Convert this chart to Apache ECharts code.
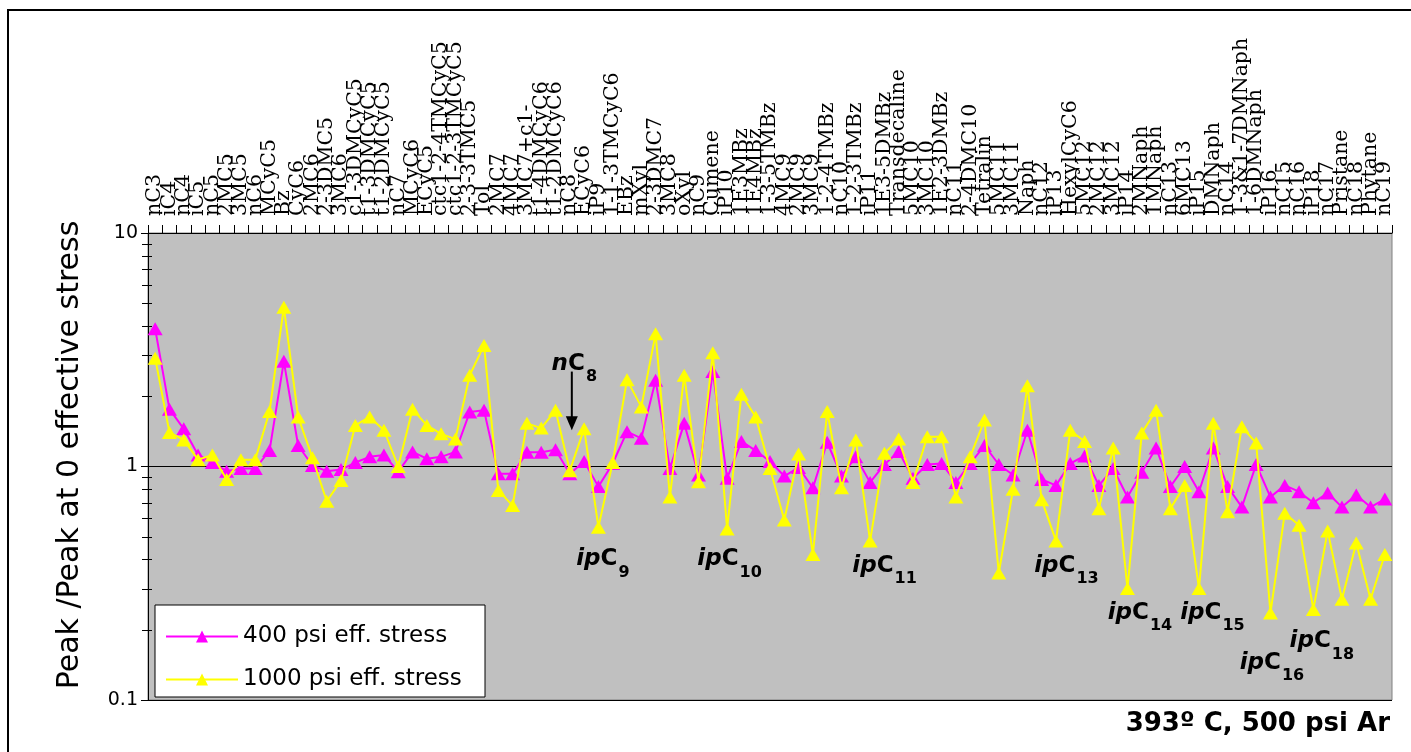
<!DOCTYPE html>
<html>
<head>
<meta charset="utf-8">
<script src="https://cdn.jsdelivr.net/npm/echarts@6/dist/echarts.min.js"></script>
<style>
html,body{margin:0;padding:0;background:#fff}
#chart{width:1411px;height:752px}
</style>
</head>
<body>
<div id="chart"></div>
<script>
var categories = ['nC3','iC4','nC4','iC5','nC5','2MC5','3MC5','nC6','MCyC5','Bz','CyC6','2MC6','2-3DMC5','3MC6',
  'c1-3DMCyC5','t1-3DMCyC5','t1-2DMCyC5','nC7','MCyC6','ECyC5','ctc1-2-4TMCyC5','ctc1-2-3TMCyC5','2-3-3TMC5',
  'Tol','2MC7','4MC7','3MC7+c1-','t1-4DMCyC6','t1-2DMCyC6','nC8','ECyC6','iP9','1-1-3TMCyC6','EBz','mXyl',
  '2-3DMC7','3MC8','oXyl','nC9','Cumene','iP10','1E3MBz','1E4MBz','1-3-5TMBz','4MC9','2MC9','3MC9','1-2-4TMBz',
  'nC10','1-2-3TMBz','iP11','1E3-5DMBz','Transdecaline','5MC10','3MC10','1E2-3DMBz','nC11','2-4DMC10','Tetralin',
  '5MC11','3MC11','Naph','nC12','iP13','HexylCyC6','5MC12','2MC12','3MC12','iP14','2MNaph','1MNaph','nC13',
  '6MC13','iP15','DMNaph','nC14','1-3&1-7DMNaph','1-6DMNaph','iP16','nC15','nC16','iP18','nC17','Pristane',
  'nC18','Phytane','nC19'];

// 400 psi effective stress
var stress400 = [3.89,1.76,1.45,1.12,1.04,0.955,0.98,0.98,1.17,2.82,1.23,1.01,0.955,0.97,1.04,1.10,1.12,0.95,1.155,1.08,
  1.10,1.155,1.71,1.74,0.93,0.93,1.15,1.15,1.18,0.93,1.05,0.82,1.03,1.41,1.32,2.34,0.98,1.53,0.92,2.55,
  0.89,1.28,1.17,1.05,0.91,0.99,0.81,1.27,0.91,1.10,0.855,1.02,1.16,0.89,1.02,1.03,0.855,1.03,1.23,1.02,
  0.92,1.43,0.88,0.83,1.03,1.11,0.83,0.98,0.74,0.945,1.20,0.82,1.0,0.78,1.20,0.82,0.67,1.02,0.74,0.83,
  0.78,0.70,0.77,0.67,0.755,0.67,0.725];

// 1000 psi effective stress
var stress1000 = [2.91,1.40,1.30,1.07,1.12,0.88,1.07,1.07,1.72,4.81,1.63,1.09,0.71,0.87,1.50,1.63,1.43,1.0,1.76,1.50,
  1.38,1.31,2.46,3.30,0.79,0.68,1.53,1.46,1.74,0.96,1.45,0.55,1.04,2.35,1.80,3.70,0.74,2.46,0.86,3.07,
  0.54,2.04,1.63,0.98,0.59,1.13,0.42,1.72,0.81,1.30,0.48,1.14,1.31,0.855,1.34,1.34,0.74,1.10,1.58,0.35,
  0.80,2.22,0.72,0.48,1.43,1.28,0.66,1.20,0.30,1.39,1.74,0.66,0.83,0.30,1.53,0.64,1.48,1.26,0.236,0.63,
  0.56,0.244,0.53,0.27,0.47,0.27,0.42];

var yMin = 0.1, yMax = 10;
var minorTicks = [0.2,0.3,0.4,0.5,0.6,0.7,0.8,0.9,2,3,4,5,6,7,8,9];

// labels under the iso-paraffin dips: category, subscript, value where the text sits, x shift
var ipNotes = [
  ['iP9','9',0.40,4],['iP10','10',0.40,2],['iP11','11',0.374,14],['iP13','13',0.374,10],
  ['iP14','14',0.236,12],['iP15','15',0.236,13],['iP16','16',0.144,1],['iP18','18',0.178,8]
];

var sans = 'DejaVu Sans';
var chart = echarts.init(document.getElementById('chart'));

var option = {
  animation: false,
  backgroundColor: '#fff',
  grid: {
    left: 148, right: 19, top: 233, bottom: 52,
    show: true, backgroundColor: '#C0C0C0', borderColor: '#808080', borderWidth: 1
  },
  legend: {
    left: 160, top: 620, orient: 'vertical',
    itemWidth: 72, itemHeight: 15, itemGap: 20,
    textStyle: {fontFamily: sans, fontSize: 23, color: '#000'},
    data: ['400 psi eff. stress', '1000 psi eff. stress'],
    z: 10
  },
  xAxis: {
    type: 'category',
    position: 'top',
    data: categories,
    boundaryGap: true,
    axisLine: {lineStyle: {color: '#000', width: 1}},
    axisTick: {show: true, interval: 0, length: 8, lineStyle: {color: '#000'}},
    axisLabel: {
      interval: 0, rotate: -90, margin: 17,
      fontFamily: 'DejaVu Serif', fontSize: 20.5, color: '#000'
    },
    splitLine: {show: false}
  },
  yAxis: {
    type: 'log',
    logBase: 10,
    min: yMin, max: yMax,
    axisLine: {show: true, lineStyle: {color: '#000', width: 1}},
    axisTick: {show: true, length: 7, lineStyle: {color: '#000'}},
    axisLabel: {
      margin: 10, fontFamily: sans, fontSize: 19, color: '#000',
      formatter: function (v) { return String(+v.toPrecision(3)); }
    },
    splitLine: {show: true, lineStyle: {color: '#000', width: 1}}
  },
  series: [
    {
      name: '400 psi eff. stress',
      type: 'line',
      data: stress400,
      symbol: 'triangle',
      symbolSize: [15, 13],
      showAllSymbol: true,
      itemStyle: {color: '#FF00FF'},
      lineStyle: {color: '#FF00FF', width: 2},
      z: 3
    },
    {
      name: '1000 psi eff. stress',
      type: 'line',
      data: stress1000,
      symbol: 'triangle',
      symbolSize: [15, 13],
      showAllSymbol: true,
      itemStyle: {color: '#FFFF00'},
      lineStyle: {color: '#FFFF00', width: 2},
      z: 4
    }
  ]
};
chart.setOption(option);

function px(cat, v) {
  return chart.convertToPixel({xAxisIndex: 0, yAxisIndex: 0}, [cat, v]);
}
function py(v) {
  return chart.convertToPixel({yAxisIndex: 0}, v);
}

var ctx = document.createElement('canvas').getContext('2d');
function textW(str, font) {
  ctx.font = font;
  return ctx.measureText(str).width;
}

var g = [];
// outer chart frame
g.push({type: 'rect', shape: {x: 8, y: 10, width: 1430, height: 780},
  style: {fill: null, stroke: '#000', lineWidth: 2}, z: 0});
// legend box
g.push({type: 'rect', shape: {x: 155, y: 605, width: 330, height: 92},
  style: {fill: '#fff', stroke: '#000', lineWidth: 1}, z: 5});
// y axis title
g.push({type: 'text', x: 70, y: 455, rotation: Math.PI / 2,
  style: {text: 'Peak /Peak at 0 effective stress', font: '30px "DejaVu Sans"', fill: '#000',
    align: 'center', verticalAlign: 'middle'}});
// minor log ticks
minorTicks.forEach(function (v) {
  var y = Math.round(py(v)) + 0.5;
  g.push({type: 'line', shape: {x1: 142, y1: y, x2: 152, y2: y},
    style: {stroke: '#000', lineWidth: 1}, z: 6});
});

var fItal = 'italic bold 23px "DejaVu Sans"';
var fBold = 'bold 23px "DejaVu Sans"';
var fSub = 'bold 16px "DejaVu Sans"';

// label like ipC9: italic prefix, bold C, lowered subscript, centred on (cx, cy)
function chemLabel(cx, cy, pre, sub) {
  var w1 = textW(pre, fItal), w2 = textW('C', fBold), w3 = textW(sub, fSub);
  var x0 = cx - (w1 + w2 + w3) / 2;
  g.push({type: 'text', x: x0, y: cy, z: 7,
    style: {text: pre, font: fItal, fill: '#000', align: 'left', verticalAlign: 'middle'}});
  g.push({type: 'text', x: x0 + w1, y: cy, z: 7,
    style: {text: 'C', font: fBold, fill: '#000', align: 'left', verticalAlign: 'middle'}});
  g.push({type: 'text', x: x0 + w1 + w2 + 1, y: cy + 13, z: 7,
    style: {text: sub, font: fSub, fill: '#000', align: 'left', verticalAlign: 'middle'}});
}

ipNotes.forEach(function (n) {
  var p = px(n[0], n[2]);
  chemLabel(p[0] + n[3], p[1], 'ip', n[1]);
});

// nC8 label and arrow
var pT = px('nC8', 2.76);
chemLabel(pT[0] + 4, pT[1], 'n', '8');
var a0 = px('nC8', 2.55), a1 = px('nC8', 1.43);
g.push({type: 'line', shape: {x1: a0[0] + 2, y1: a0[1], x2: a0[0] + 2, y2: a1[1] - 10},
  style: {stroke: '#000', lineWidth: 2}, z: 7});
g.push({type: 'polygon', shape: {points: [[a1[0] - 4, a1[1] - 14], [a1[0] + 8, a1[1] - 14], [a1[0] + 2, a1[1]]]},
  style: {fill: '#000'}, z: 7});

// run conditions
g.push({type: 'text', right: 21, top: 711,
  style: {text: '393º C, 500 psi Ar', font: 'bold 26px "DejaVu Sans"', fill: '#000'}});

chart.setOption({graphic: g});
</script>
</body>
</html>
